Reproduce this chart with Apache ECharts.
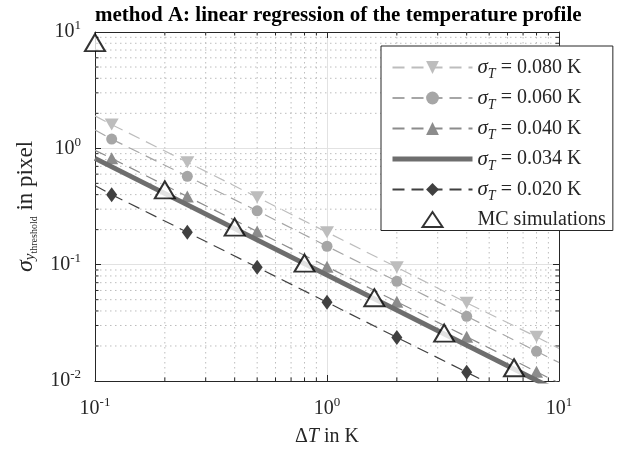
<!DOCTYPE html>
<html>
<head>
<meta charset="utf-8">
<script src="https://cdn.jsdelivr.net/npm/echarts@6/dist/echarts.min.js"></script>
<style>
  html, body { margin: 0; padding: 0; background: #fff; }
  #chart { width: 624px; height: 453px; }
</style>
</head>
<body>
<div id="chart"></div>
<script>
  // ΔT positions of the fitted lines (first / last entry: line ends without marker)
  const dTFit = [0.1, 0.118, 0.25, 0.5, 1, 2, 4, 8, 10];
  const sig080 = [1.9, 1.6, 0.76, 0.38, 0.19, 0.095, 0.047, 0.024, 0.019];
  const sig060 = [1.44, 1.2, 0.575, 0.29, 0.144, 0.072, 0.036, 0.018, 0.0144];
  const sig040 = [0.96, 0.82, 0.385, 0.193, 0.096, 0.048, 0.024, 0.012, 0.0096];
  const sig020 = [0.48, 0.40, 0.19, 0.095, 0.0475, 0.0237, 0.0119, 0.006, 0.0048];
  // thick reference line
  const dTLine = [0.1, 10];
  const sig034 = [0.82, 0.0081];
  // MC simulations
  const dTMC = [0.1, 0.2, 0.4, 0.8, 1.6, 3.2, 6.4];
  const sigMC = [8.1, 0.44, 0.21, 0.103, 0.052, 0.0258, 0.013];
  // minor tick positions
  const minorX = [0.2, 0.3, 0.4, 0.5, 0.6, 0.7, 0.8, 0.9, 2, 3, 4, 5, 6, 7, 8, 9];
  const minorY = [0.02, 0.03, 0.04, 0.05, 0.06, 0.07, 0.08, 0.09,
                  0.2, 0.3, 0.4, 0.5, 0.6, 0.7, 0.8, 0.9,
                  2, 3, 4, 5, 6, 7, 8, 9];

  const FONT = 'Liberation Serif';
  const AX = '#262626';

  function fitData(ys) {
    return dTFit.map(function (x, i) {
      const item = { value: [x, ys[i]] };
      if (i === 0 || i === dTFit.length - 1) item.symbol = 'none';
      return item;
    });
  }

  function powLabel(v) {
    const e = Math.round(Math.log10(v));
    return '{b|10}{e|' + e + '}';
  }
  const powRich = {
    b: { fontFamily: FONT, fontSize: 20, color: AX, lineHeight: 20 },
    e: { fontFamily: FONT, fontSize: 13, color: AX, padding: [0, 0, 12, 0] }
  };

  function dashed(name, ys, color, symbol, size, rotate) {
    return {
      name: name, type: 'line', data: fitData(ys),
      symbol: symbol, symbolSize: size, symbolRotate: rotate || 0,
      itemStyle: { color: color },
      lineStyle: { color: color, width: 1.2, type: [12, 7] },
      z: 3
    };
  }

  const chart = echarts.init(document.getElementById('chart'));
  chart.setOption({
    animation: false,
    title: {
      text: 'method A: linear regression of the temperature profile',
      left: 90, top: 0,
      textStyle: { fontFamily: FONT, fontSize: 21, fontWeight: 'bold', color: '#000' }
    },
    grid: { left: 95, right: 65, top: 32, bottom: 72 },
    legend: {
      data: ['0.080', '0.060', '0.040',
        { name: '0.034', itemStyle: { opacity: 0 }, lineStyle: { color: '#6e6e6e', width: 5, type: 'solid' } },
        '0.020',
        { name: 'MC simulations', icon: 'path://M0,0M80,16M30,15.5L40,0.5L50,15.5Z',
          itemStyle: { color: '#fff', borderColor: '#000', borderWidth: 2 } }],
      orient: 'vertical',
      left: 381, top: 46,
      padding: [11, 7, 1, 9],
      itemWidth: 80, itemHeight: 16, itemGap: 6,
      backgroundColor: '#fff', borderColor: AX, borderWidth: 1,
      formatter: function (name) {
        if (name === 'MC simulations') return '{m|MC simulations}';
        return '{s|σ}{t|T}{m| = ' + name + ' K}';
      },
      textStyle: {
        rich: {
          s: { fontFamily: FONT, fontStyle: 'italic', fontSize: 21, color: AX },
          t: { fontFamily: FONT, fontStyle: 'italic', fontSize: 14, color: AX, padding: [14, 0, 0, 0] },
          m: { fontFamily: FONT, fontSize: 20, color: AX, lineHeight: 27 }
        }
      }
    },
    xAxis: [{
      type: 'log', min: 0.1, max: 10, interval: 1,
      name: '{n|Δ}{i|T}{n| in K}', nameLocation: 'middle', nameGap: 46,
      nameTextStyle: {
        rich: {
          n: { fontFamily: FONT, fontSize: 20, color: AX },
          i: { fontFamily: FONT, fontSize: 20, fontStyle: 'italic', color: AX }
        }
      },
      axisLine: { show: true, lineStyle: { color: AX, width: 1 } },
      axisTick: { show: true, inside: true, length: 6, lineStyle: { color: AX } },
      axisLabel: { margin: 15, formatter: powLabel, rich: powRich },
      splitLine: { show: true, lineStyle: { color: '#e2e2e2', width: 1 } }
    }, {
      type: 'log', min: 0.1, max: 10, interval: 1, position: 'top',
      axisLine: { show: true, lineStyle: { color: AX, width: 1 } },
      axisTick: { show: true, inside: true, length: 6, lineStyle: { color: AX } },
      axisLabel: { show: false }, splitLine: { show: false }
    }],
    yAxis: [{
      type: 'log', min: 0.01, max: 10, interval: 1,
      name: '{s|σ}{y|y}{t|threshold}{p| in pixel}', nameLocation: 'middle', nameGap: 56,
      nameTextStyle: {
        rich: {
          s: { fontFamily: FONT, fontStyle: 'italic', fontSize: 24, color: AX },
          y: { fontFamily: FONT, fontStyle: 'italic', fontSize: 15, color: AX, padding: [9, 0, 0, 0] },
          t: { fontFamily: FONT, fontSize: 10, color: AX, padding: [16, 0, 0, 0] },
          p: { fontFamily: FONT, fontSize: 23, color: AX }
        }
      },
      axisLine: { show: true, lineStyle: { color: AX, width: 1 } },
      axisTick: { show: true, inside: true, length: 6, lineStyle: { color: AX } },
      axisLabel: { margin: 14, formatter: powLabel, rich: powRich },
      splitLine: { show: true, lineStyle: { color: '#e2e2e2', width: 1 } }
    }, {
      type: 'log', min: 0.01, max: 10, interval: 1, position: 'right',
      axisLine: { show: true, lineStyle: { color: AX, width: 1 } },
      axisTick: { show: true, inside: true, length: 6, lineStyle: { color: AX } },
      axisLabel: { show: false }, splitLine: { show: false }
    }],
    series: [
      {
        type: 'custom', name: 'minorX', silent: true, z: 1,
        data: minorX.map(function (v) { return [v, 1]; }),
        renderItem: function (params, api) {
          const cs = params.coordSys;
          const x = api.coord([api.value(0), 1])[0];
          const b = cs.y + cs.height;
          return { type: 'group', children: [
            { type: 'line', shape: { x1: x, y1: cs.y, x2: x, y2: b },
              style: { stroke: '#bdbdbd', lineWidth: 1, lineDash: [1.5, 3.5] } },
            { type: 'line', shape: { x1: x, y1: b, x2: x, y2: b - 3.5 }, style: { stroke: AX, lineWidth: 1 } },
            { type: 'line', shape: { x1: x, y1: cs.y, x2: x, y2: cs.y + 3.5 }, style: { stroke: AX, lineWidth: 1 } }
          ] };
        }
      },
      {
        type: 'custom', name: 'minorY', silent: true, z: 1,
        data: minorY.map(function (v) { return [1, v]; }),
        renderItem: function (params, api) {
          const cs = params.coordSys;
          const y = api.coord([1, api.value(1)])[1];
          const r = cs.x + cs.width;
          return { type: 'group', children: [
            { type: 'line', shape: { x1: cs.x, y1: y, x2: r, y2: y },
              style: { stroke: '#bdbdbd', lineWidth: 1, lineDash: [1.5, 3.5] } },
            { type: 'line', shape: { x1: cs.x, y1: y, x2: cs.x + 3.5, y2: y }, style: { stroke: AX, lineWidth: 1 } },
            { type: 'line', shape: { x1: r, y1: y, x2: r - 3.5, y2: y }, style: { stroke: AX, lineWidth: 1 } }
          ] };
        }
      },
      dashed('0.080', sig080, '#bdbdbd', 'triangle', [14, 12], 180),
      dashed('0.060', sig060, '#a6a6a6', 'circle', 11),
      dashed('0.040', sig040, '#8c8c8c', 'triangle', [13, 12]),
      {
        name: '0.034', type: 'line', symbol: 'none', z: 4,
        data: dTLine.map(function (x, i) { return [x, sig034[i]]; }),
        itemStyle: { color: '#6e6e6e' },
        lineStyle: { color: '#6e6e6e', width: 5 }
      },
      dashed('0.020', sig020, '#404040', 'diamond', [11, 15]),
      {
        name: 'MC simulations', type: 'scatter', clip: false, z: 5,
        symbol: 'triangle', symbolSize: [20, 17],
        data: dTMC.map(function (x, i) { return [x, sigMC[i]]; }),
        itemStyle: { color: '#fff', borderColor: '#000', borderWidth: 2 }
      }
    ]
  });
</script>
</body>
</html>
